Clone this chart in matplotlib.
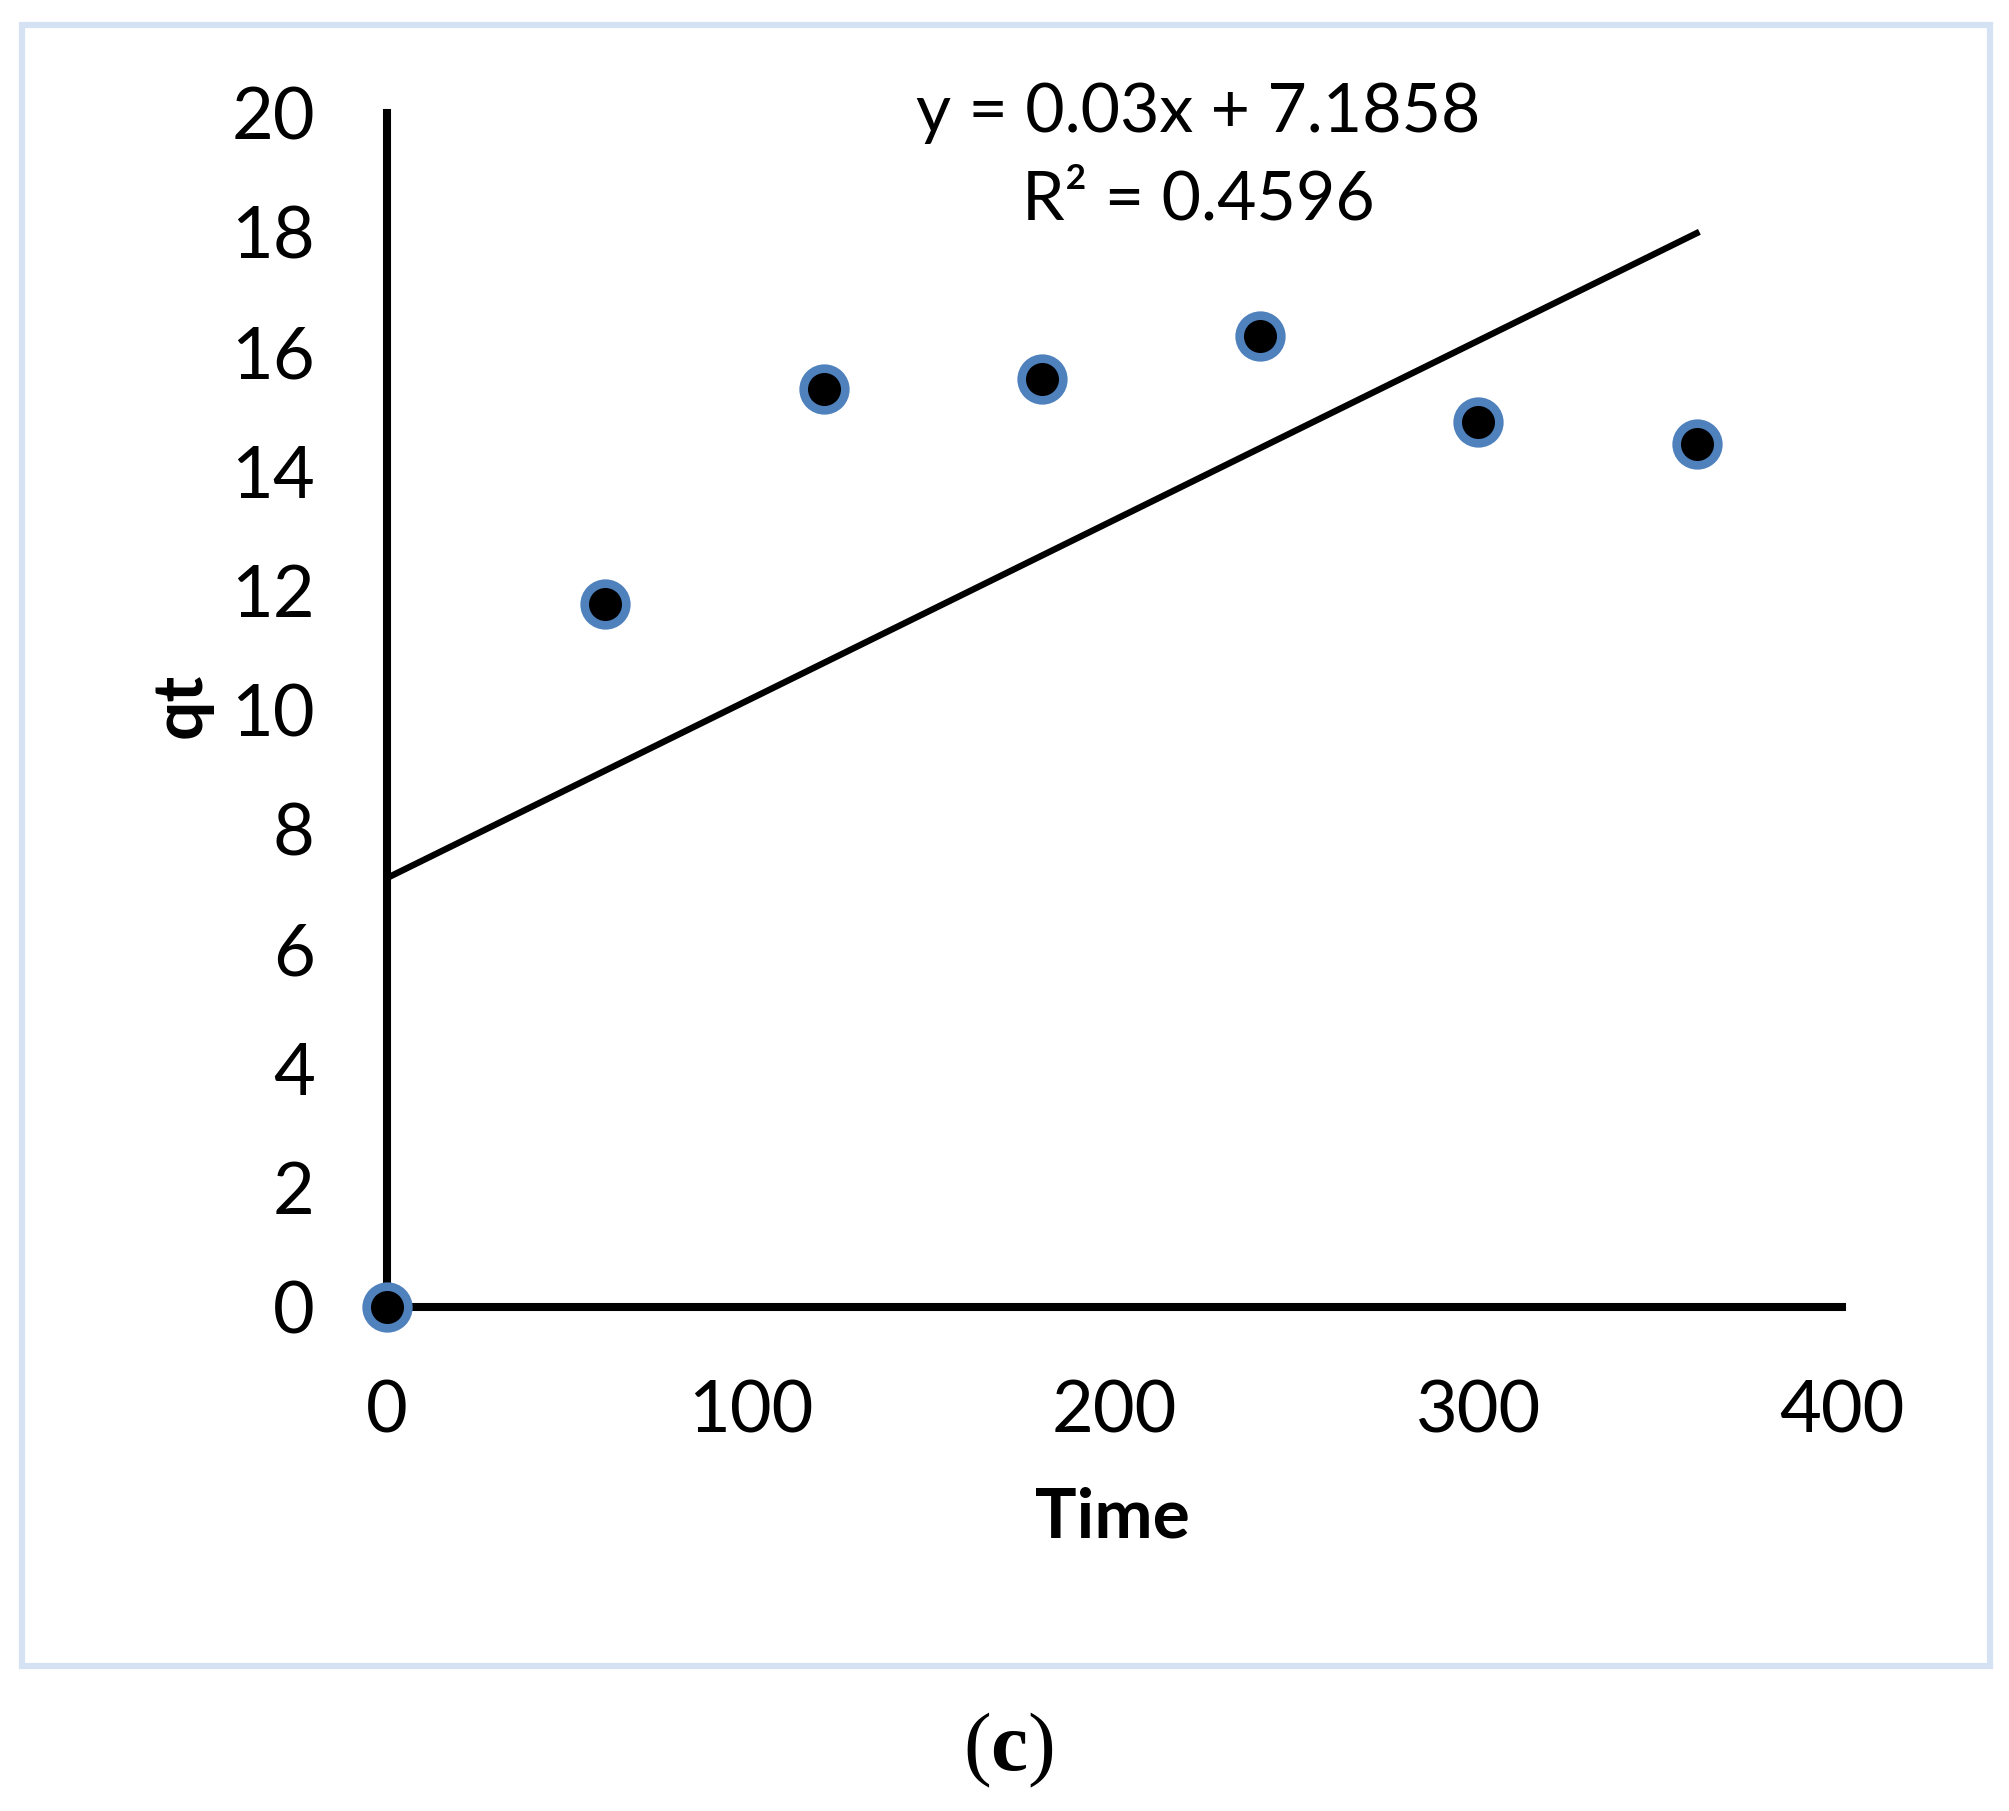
import numpy as np
import matplotlib as mpl
mpl.use('Agg')
import matplotlib.pyplot as plt
from matplotlib.patches import Rectangle

# data
time = [0, 60, 120, 180, 240, 300, 360]
qt = [0, 11.77, 15.38, 15.55, 16.26, 14.82, 14.46]
# trendline as given in the chart label
slope = 0.03
intercept = 7.1858
r2 = 0.4596

x_ticks = [0, 100, 200, 300, 400]
y_ticks = list(range(0, 21, 2))

plt.rcParams['font.family'] = ['Lato', 'DejaVu Sans']
plt.rcParams['mathtext.fontset'] = 'custom'
plt.rcParams['mathtext.bf'] = 'Liberation Serif:bold'
plt.rcParams['mathtext.rm'] = 'Liberation Serif'

W, H = 2009, 1811
fig = plt.figure(figsize=(W / 100, H / 100), dpi=100)
ax = fig.add_axes([387 / W, 1 - 1307 / H, (1842 - 387) / W, (1307 - 113) / H])

# light blue frame round the chart
fig.patches.append(Rectangle((22 / W, 1 - 1666 / H), (1990 - 22) / W, (1666 - 25) / H,
                             transform=fig.transFigure, fill=False,
                             edgecolor='#d5e2f3', linewidth=4.5))

# trendline
tx = np.array([time[0], time[-1]])
ax.plot(tx, slope * tx + intercept, color='black', linewidth=4.6, zorder=2)

ax.plot(time, qt, linestyle='none', marker='o', markersize=30,
        markerfacecolor='black', markeredgecolor='#4f81bd', markeredgewidth=6.2,
        clip_on=False, zorder=4)

ax.set_xlim(0, 400)
ax.set_ylim(0, 20)
ax.set_xticks(x_ticks)
ax.set_yticks(y_ticks)
for s in ['top', 'right']:
    ax.spines[s].set_visible(False)
for s in ['left', 'bottom']:
    ax.spines[s].set_linewidth(5.8)
    ax.spines[s].set_color('black')
ax.tick_params(axis='both', length=0, labelsize=52)
ax.tick_params(axis='x', pad=52)
ax.tick_params(axis='y', pad=52)

fig.text(1112 / W, 1 - 1518 / H, 'Time', fontsize=50, fontweight='bold',
         ha='center', va='center')
fig.text(181 / W, 1 - 705 / H, 'qt', fontsize=50, fontweight='bold',
         rotation=90, ha='center', va='center')

fig.text(1198 / W, 1 - 113 / H, 'y = ' + str(slope) + 'x + ' + str(intercept),
         fontsize=49, ha='center', va='center')
fig.text(1198 / W, 1 - 201 / H, 'R² = ' + str(r2),
         fontsize=49, ha='center', va='center')

fig.text(1008 / W, 1 - 1750 / H, r'($\mathbf{c}$)', fontsize=60,
         family=['Liberation Serif'], ha='center', va='center')

fig.savefig('out.png', dpi=100, facecolor='white')
